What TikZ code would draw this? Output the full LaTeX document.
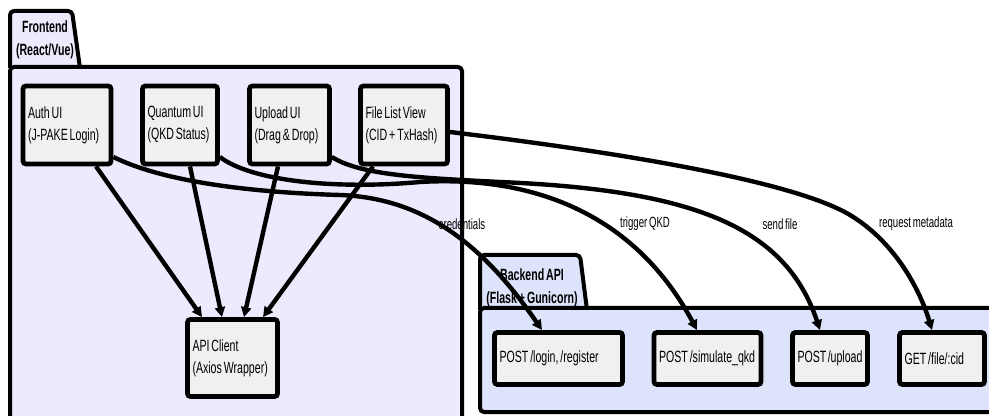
\documentclass[tikz,border=0pt]{standalone}
\usepackage{fontspec}
\setmainfont{Liberation Sans}[FakeStretch=0.65, WordSpace=0.65]
\usepackage{tikz}
\usetikzlibrary{positioning, arrows.meta, calc}
\definecolor{frontfill}{HTML}{ECEBFD}
\definecolor{backfill}{HTML}{DDE3FA}
\definecolor{boxgray}{HTML}{F0F0F0}
\hyphenpenalty=10000

\begin{document}
\begin{tikzpicture}[
        x=0.5pt, y=-0.5pt,
        every node/.style={font=\fontsize{8.15}{11}\selectfont},
        group/.style={draw, line width=2pt, rounded corners=2pt},
        title/.style={font=\fontsize{8.15}{11.5}\selectfont\bfseries, align=center, inner sep=0pt},
        box/.style={rectangle, draw, line width=2.4pt, rounded corners=1.5pt, fill=boxgray,
            align=flush left, inner xsep=2.5pt, text width=#1, minimum height=39pt},
        endpoint/.style={box=#1, minimum height=26pt},
        lbl/.style={font=\fontsize{7.4}{9}\selectfont, inner sep=0pt},
        arrow/.style={-{Triangle[length=5pt, width=5pt]}, line width=2.2pt},
    ]
    \clip (0,0) rectangle (989,416);
    % subgraphs
    \draw[group, fill=frontfill] (10,68) -- (10,11) -- (72,11) -- (80,68);
    \draw[group, fill=frontfill] (10,67) rectangle (462,440);
    \node[title] (fronttitle) at (45,40) {Frontend\\(React/Vue)};
    \draw[group, fill=backfill] (480,310) -- (480,255) -- (580,255) -- (587,310);
    \draw[group, fill=backfill] (480,308) rectangle (1010,412);
    \node[title] (backtitle) at (532,288) {Backend API\\(Flask + Gunicorn)};

    \node[box=39pt] (auth) at (67,125) {Auth UI\\(J-PAKE Login)};
    \node[box=32.5pt] (quantum) at (180,125) {Quantum UI\\(QKD Status)};
    \node[box=35pt] (upload) at (289.5,125) {Upload UI\\(Drag \& Drop)};
    \node[box=38.5pt] (filelist) at (404,125) {File List View\\(CID + TxHash)};
    \node[box=40pt, minimum height=38.5pt] (api) at (232.5,358) {API Client\\(Axios Wrapper)};

    \node[endpoint=59pt] (login) at (558.5,358.5) {POST /login, /register};
    \node[endpoint=48.5pt] (simulate) at (707.5,358.5) {POST~/simulate\_qkd};
    \node[endpoint=32.5pt] (uploadapi) at (830,358.5) {POST~/upload};
    \node[endpoint=37.5pt] (getfile) at (942,358.5) {GET~/file/:cid};

    \draw[arrow] ([xshift=14.5pt]auth.south) -- ([xshift=-15.25pt]api.north);
    \draw[arrow] ([xshift=5pt]quantum.south) -- ([xshift=-5.25pt]api.north);
    \draw[arrow] ([xshift=-5.75pt]upload.south) -- ([xshift=5.75pt]api.north);
    \draw[arrow] ([xshift=-15.5pt]filelist.south) -- ([xshift=15.25pt]api.north);

    \draw[arrow] ([yshift=-16pt]auth.east) .. controls (170,185) and (270,193) .. (340,195)
        .. controls (420,198) and (480,240) .. ([xshift=-8.25pt]login.north);
    \draw[arrow] ([yshift=-16pt]quantum.east) .. controls (250,180) and (330,190) .. (420,182)
        .. controls (520,176) and (630,205) .. ([xshift=-5.25pt]simulate.north);
    \draw[arrow] ([yshift=-16pt]upload.east) .. controls (360,175) and (420,178) .. (500,182)
        .. controls (690,190) and (785,225) .. ([xshift=-5pt]uploadapi.north);
    \draw[arrow] ([yshift=-3.5pt]filelist.east) .. controls (600,150) and (790,179) .. (850,215)
        .. controls (895,242) and (920,290) .. ([xshift=-5pt]getfile.north);

    \node[lbl] (credlbl) at (462,224) {credentials};
    \node[lbl] (qkdlbl) at (645,224) {trigger QKD};
    \node[lbl] (sendlbl) at (780,224) {send file};
    \node[lbl] (metalbl) at (916,224) {request metadata};
\end{tikzpicture}
\end{document}
